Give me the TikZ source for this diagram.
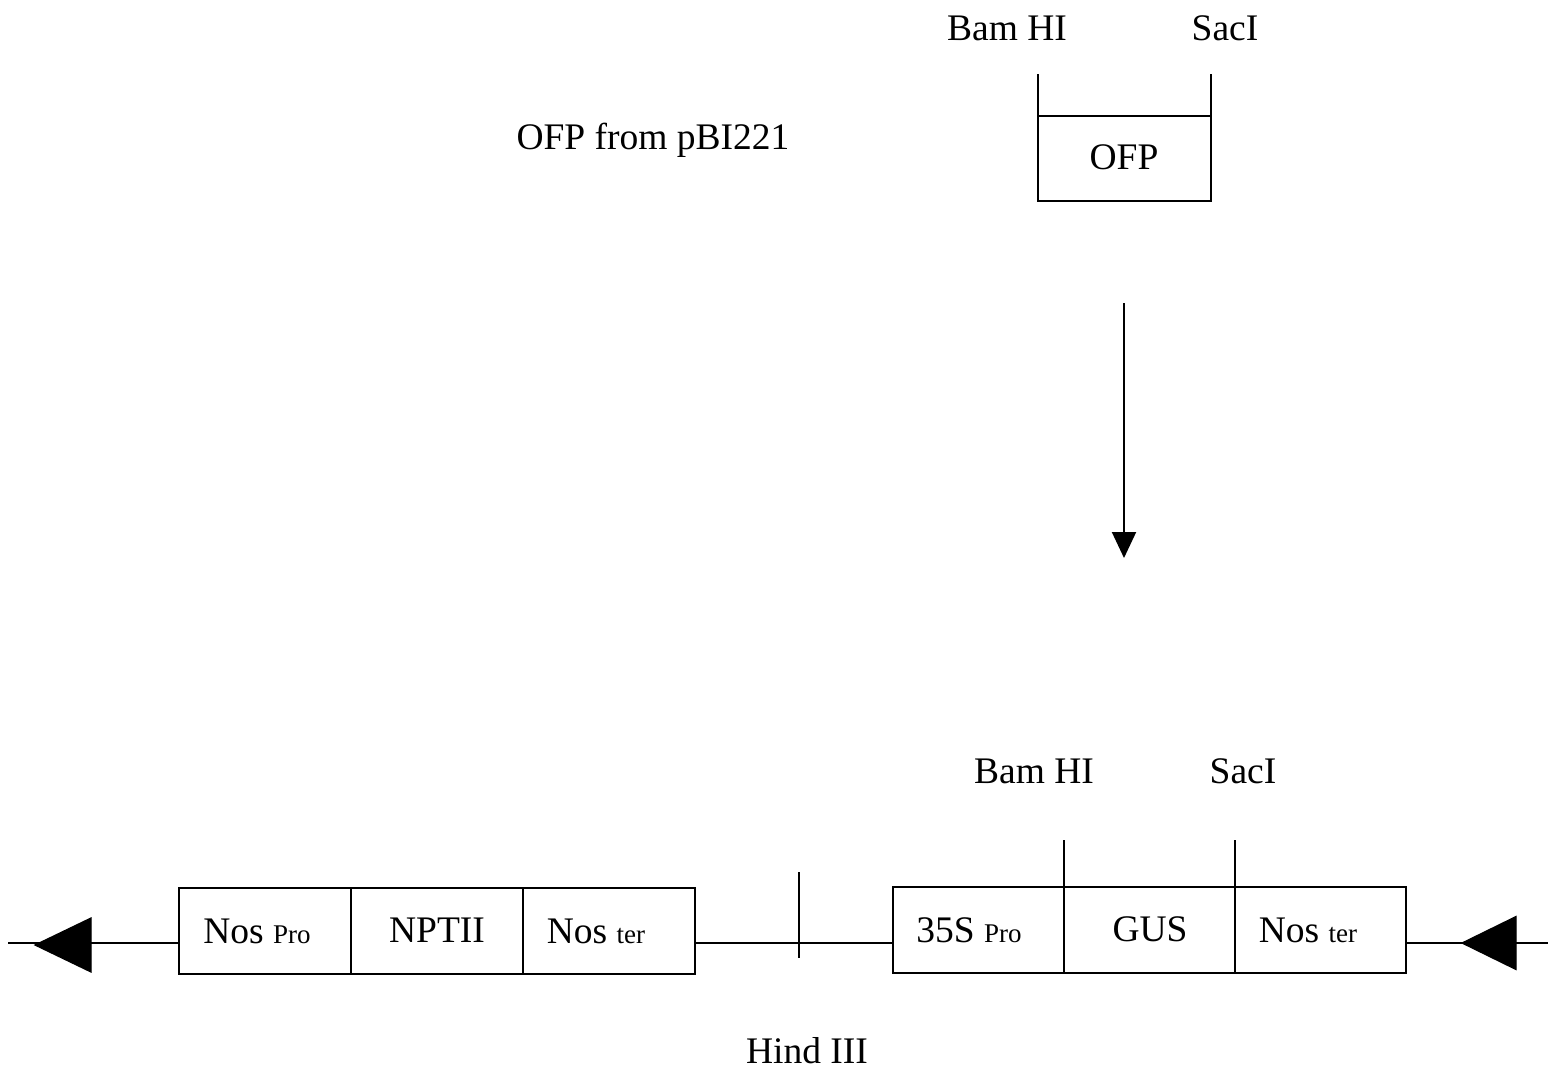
\documentclass[tikz,border=0pt]{standalone}
\usepackage{fontspec}
\setmainfont{Liberation Serif}
\usetikzlibrary{arrows.meta}
\newcommand{\sml}[1]{{\fontsize{13.5}{15}\selectfont #1}}
\begin{document}
\begin{tikzpicture}[x=0.5pt,y=-0.5pt,line width=1pt,
  seg/.style={draw,minimum height=43pt,inner sep=0pt,outer sep=0pt,anchor=west},
  lseg/.style={seg,minimum width=86pt},
  rseg/.style={seg,minimum width=85.5pt},
  lbl/.style={font=\fontsize{18.75}{22}\selectfont,inner sep=0pt},
  marker/.style={fill=black,draw=black,line width=0.6pt}]
\useasboundingbox (0,0) rectangle (1559,1072);

% insert fragment
\node[draw,minimum width=86.5pt,minimum height=42.5pt,inner sep=0pt,outer sep=0pt] (ofp) at (1124.5,158.5) {};
\node[lbl] (ofpt) at (1124,157) {OFP};
\coordinate (cuttop) at (1038,74);
\draw (ofp.north west) -- (ofp.north west |- cuttop);
\draw (ofp.north east) -- (ofp.north east |- cuttop);
\node[lbl] (bam1) at (1007,28) {Bam HI};
\node[lbl] (sac1) at (1225,28) {SacI};
\node[lbl] (src) at (653,140) {OFP from pBI221};

% cloning arrow
\coordinate (arrS) at (1124,303);
\coordinate (arrE) at (1124,558);
\draw[-{Triangle[width=12pt,length=13pt]}] (arrS) -- (arrE);

% NPTII cassette
\node[lseg] (npro) at (179,930.5) {};
\node[lseg] (nptii) at (npro.east) {};
\node[lseg] (nter1) at (nptii.east) {};
\node[lbl] (nprot) at (257,931) {Nos \sml{Pro}};
\node[lbl] (nptiit) at (437,930) {NPTII};
\node[lbl] (nter1t) at (596,931) {Nos \sml{ter}};

% GUS cassette
\node[rseg] (spro) at (893,929.5) {};
\node[rseg] (gus) at (spro.east) {};
\node[rseg] (nter2) at (gus.east) {};
\node[lbl] (sprot) at (969,930) {35S \sml{Pro}};
\node[lbl] (gust) at (1150,929) {GUS};
\node[lbl] (nter2t) at (1308,930) {Nos \sml{ter}};

% backbone
\coordinate (lend) at (8,943);
\coordinate (rend) at (1548,943);
\draw (lend) -- (npro.west |- lend);
\draw (nter1.east |- lend) -- (spro.west |- lend);
\draw (nter2.east |- rend) -- (rend);

% border markers
\coordinate (ltip) at (35,945);
\coordinate (rtip) at (1462,943);
\draw[marker] (ltip) -- ++(56,-27) -- ++(0,54) -- cycle;
\draw[marker] (rtip) -- ++(54,-26.5) -- ++(0,53) -- cycle;

% restriction sites
\coordinate (hind) at (799,872);
\draw (hind) -- ++(0,86);
\node[lbl] (hindt) at (807,1051) {Hind III};
\coordinate (bamtop) at (1065,840);
\draw (gus.north west) -- (gus.north west |- bamtop);
\draw (gus.north east) -- (gus.north east |- bamtop);
\node[lbl] (bam2) at (1034,771) {Bam HI};
\node[lbl] (sac2) at (1243,771) {SacI};
\end{tikzpicture}
\end{document}
